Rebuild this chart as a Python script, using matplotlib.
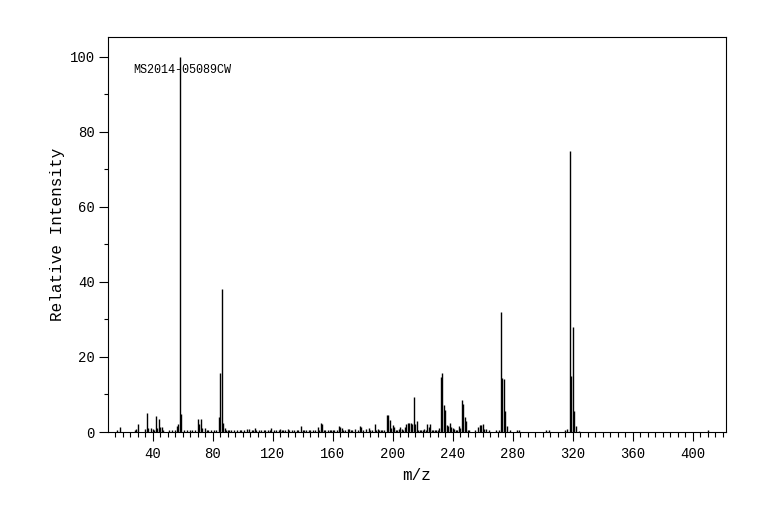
import matplotlib
matplotlib.use("Agg")
import matplotlib.pyplot as plt
from matplotlib.ticker import MultipleLocator

plt.rcParams['font.family'] = ['Liberation Mono', 'DejaVu Sans Mono']

# peak list (m/z, relative intensity %)
mz = [16, 18, 28, 29, 30, 35, 36, 37, 39, 40, 41, 42, 43, 44, 45, 46, 47, 51, 53, 55,
      56, 57, 58, 59, 61, 63, 65, 66, 68, 70, 71, 72, 73, 75, 76, 77, 79, 81, 82, 84,
      85, 86, 87, 88, 89, 90, 91, 92, 94, 96, 98, 99, 101, 103, 104, 106, 107, 108, 109, 111,
      112, 114, 115, 117, 118, 119, 121, 122, 124, 125, 126, 127, 128, 130, 131, 133, 134, 136, 137, 139,
      140, 141, 142, 144, 145, 147, 148, 150, 151, 152, 153, 154, 155, 157, 158, 159, 160, 161, 163, 164,
      165, 166, 167, 168, 170, 171, 172, 173, 175, 177, 178, 179, 180, 182, 184, 185, 186, 188, 189, 190,
      191, 192, 193, 194, 196, 197, 198, 199, 200, 201, 202, 203, 204, 205, 206, 207, 208, 209, 210, 211,
      212, 213, 214, 215, 216, 217, 218, 219, 220, 221, 222, 223, 224, 225, 226, 227, 228, 229, 230, 231,
      232, 233, 234, 235, 236, 237, 238, 239, 240, 241, 242, 243, 244, 245, 246, 247, 248, 249, 250, 251,
      255, 257, 258, 259, 260, 261, 262, 264, 269, 271, 272, 273, 274, 275, 276, 278, 283, 284, 302, 304,
      315, 316, 318, 319, 320, 321, 322, 324, 410]
intensity = [0.5, 1.3, 0.4, 0.8, 2.0, 0.8, 5.1, 1.0, 1.0, 0.8, 0.6, 4.3, 1.0, 3.5, 1.3, 1.3, 0.4, 0.4, 0.4, 0.6,
             1.6, 2.0, 100, 4.8, 0.4, 0.4, 0.6, 0.4, 0.6, 3.5, 2.2, 3.5, 1.0, 1.0, 0.6, 0.4, 0.5, 0.4, 0.6, 3.9,
             15.6, 38, 2.5, 1.0, 0.6, 0.4, 0.6, 0.6, 0.5, 0.6, 0.4, 0.6, 0.5, 0.7, 0.7, 0.5, 0.6, 1.0, 0.6, 0.5,
             0.5, 0.4, 0.6, 0.5, 0.5, 1.1, 0.5, 0.4, 0.5, 0.8, 0.6, 0.5, 0.4, 0.7, 0.4, 0.5, 0.6, 0.4, 0.5, 1.6,
             0.6, 0.4, 0.4, 0.5, 0.6, 0.4, 0.5, 1.2, 0.6, 2.3, 2.0, 0.5, 0.4, 0.5, 0.5, 0.4, 0.6, 0.5, 0.6, 1.5,
             1.2, 1.0, 0.6, 0.5, 0.8, 0.8, 0.5, 0.4, 0.7, 0.6, 1.6, 1.2, 0.5, 0.7, 1.0, 0.5, 0.5, 2.1, 0.4, 0.7,
             0.6, 0.5, 0.5, 0.5, 4.5, 4.5, 3.3, 1.0, 1.9, 1.3, 0.6, 0.6, 0.8, 1.2, 0.8, 0.4, 1.4, 2.2, 2.3, 2.5,
             2.4, 2.1, 9.3, 2.2, 3.0, 0.6, 0.5, 0.4, 0.6, 0.7, 0.5, 2.2, 1.4, 2.0, 0.6, 0.5, 0.5, 0.5, 0.6, 1.0,
             14.6, 15.6, 7.2, 5.9, 1.8, 1.6, 2.3, 1.4, 1.0, 0.7, 0.6, 0.5, 1.6, 1.0, 8.5, 7.5, 3.9, 2.8, 0.6, 0.4,
             0.4, 1.4, 1.8, 1.9, 2.0, 0.8, 0.8, 0.4, 0.4, 0.6, 32, 14.5, 14.1, 5.7, 1.6, 0.4, 0.6, 0.5, 0.5, 0.5,
             0.5, 0.8, 75, 15, 28, 5.7, 1.6, 0.3, 0.4]

sample_id = "MS2014-05089CW"
x_ticks = [40, 80, 120, 160, 200, 240, 280, 320, 360, 400]
y_ticks = [0, 20, 40, 60, 80, 100]

fig = plt.figure(figsize=(7.84, 5.24), dpi=100)
ax = fig.add_axes([108 / 784, 92 / 524, 618 / 784, 395 / 524])

ax.vlines(mz, 0, intensity, colors='black', linewidth=1.0)

ax.set_xlim(10.3, 422.3)
ax.set_ylim(0, 105.3)
ax.set_xticks(x_ticks)
ax.set_yticks(y_ticks)
ax.xaxis.set_minor_locator(MultipleLocator(5))
ax.yaxis.set_minor_locator(MultipleLocator(10))
ax.tick_params(axis='x', which='major', direction='out', length=6.5, width=0.8, pad=4, labelsize=10)
ax.tick_params(axis='x', which='minor', direction='out', length=3.5, width=0.8)
ax.tick_params(axis='y', which='major', direction='out', length=6.5, width=0.8, pad=3, labelsize=10)
ax.tick_params(axis='y', which='minor', direction='out', length=3, width=0.8)
for s in ax.spines.values():
    s.set_linewidth(0.8)

ax.set_xlabel("m/z", fontsize=11.5)
ax.set_ylabel("Relative Intensity", fontsize=11.5)
ax.xaxis.set_label_coords(0.5, -0.091)
ax.yaxis.set_label_coords(-0.069, 0.5)

ax.text(0.0405, 0.916, sample_id, transform=ax.transAxes, fontsize=8.5,
        va='center', ha='left')

plt.savefig("out.png", dpi=100)
plt.close()
